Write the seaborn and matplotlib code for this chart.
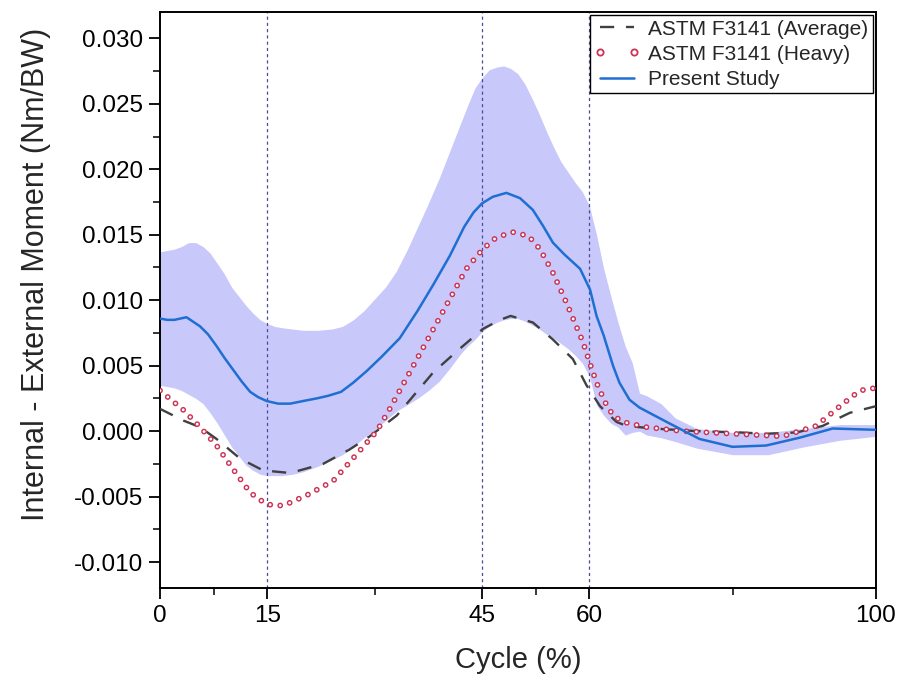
import matplotlib
matplotlib.use("Agg")
import matplotlib.pyplot as plt
from matplotlib.lines import Line2D
import numpy as np
import pandas as pd
import seaborn as sns

# ---------------------------------------------------------------------------
# Données
# ---------------------------------------------------------------------------
x_study = [0, 1, 2, 3.7, 5.6, 6.7, 7.9, 9, 10.2, 11.4, 12.6, 13.7, 14.9, 16.5,
           18.2, 20, 21.9, 23.5, 25.3, 27, 28.9, 31, 33.5, 36, 38.2, 40.5,
           42.5, 43.8, 45, 46.5, 48.4, 50.3, 52.1, 53.5, 54.9, 56.5, 58.7,
           60.1, 61, 62, 63.3, 64.2, 65.6, 67, 70.8, 75.4, 80, 84.7, 89.4, 94,
           100]
y_study = [0.0086, 0.0085, 0.0085, 0.0087, 0.0080, 0.0074, 0.0065, 0.0056,
           0.0047, 0.0038, 0.0030, 0.0026, 0.0023, 0.0021, 0.0021, 0.0023,
           0.0025, 0.0027, 0.0030, 0.0037, 0.0046, 0.0057, 0.0071, 0.0092,
           0.0112, 0.0134, 0.0156, 0.0167, 0.0174, 0.0179, 0.0182, 0.0178,
           0.0169, 0.0157, 0.0144, 0.0135, 0.0124, 0.0108, 0.0088, 0.0073,
           0.0050, 0.0037, 0.0024, 0.0018, 0.0007, -0.0006, -0.0012, -0.0011,
           -0.0005, 0.0002, 0.0001]

x_band = [0, 1, 2, 3, 4, 5, 6, 7, 8, 9, 10, 11, 12, 13, 14, 15, 16, 17, 18.5,
          20, 22, 24, 25.5, 27, 28.5, 30, 31.5, 33, 34.5, 36, 37.5, 39, 40.5,
          42, 43, 44, 45, 46, 47, 48, 49, 50, 51, 52, 53, 54, 55, 56, 57, 58,
          59, 60, 61, 62, 63, 64, 65, 66, 67, 68, 70, 72, 75, 80, 85, 90, 95,
          100]
band_upper = [0.0137, 0.0138, 0.0139, 0.0141, 0.0144, 0.0144, 0.0141, 0.0136,
              0.0128, 0.0120, 0.0110, 0.0103, 0.0096, 0.0090, 0.0085, 0.0082,
              0.0080, 0.0079, 0.0078, 0.0077, 0.0077, 0.0078, 0.0080, 0.0085,
              0.0092, 0.0101, 0.0110, 0.0122, 0.0138, 0.0156, 0.0174, 0.0193,
              0.0214, 0.0235, 0.0249, 0.0262, 0.0270, 0.0276, 0.0278, 0.0279,
              0.0277, 0.0273, 0.0265, 0.0254, 0.0242, 0.0229, 0.0217, 0.0206,
              0.0198, 0.0190, 0.0183, 0.0172, 0.0150, 0.0124, 0.0103, 0.0083,
              0.0065, 0.0052, 0.0029, 0.0027, 0.0021, 0.0010, 0.0002, -0.0001,
              -0.0001, 0.0002, 0.0005, 0.0005]
band_lower = [0.0035, 0.0034, 0.0033, 0.0031, 0.0028, 0.0025, 0.0021, 0.0014,
              0.0006, -0.0003, -0.0012, -0.0019, -0.0026, -0.0030, -0.0033,
              -0.0034, -0.0034, -0.0034, -0.0033, -0.0031, -0.0027, -0.0022,
              -0.0018, -0.0012, -0.0005, 0.0001, 0.0008, 0.0015, 0.0020,
              0.0025, 0.0031, 0.0038, 0.0048, 0.0059, 0.0065, 0.0070, 0.0076,
              0.0080, 0.0083, 0.0085, 0.0086, 0.0086, 0.0084, 0.0081, 0.0078,
              0.0074, 0.0071, 0.0067, 0.0063, 0.0058, 0.0052, 0.0042, 0.0020,
              0.0012, 0.0006, 0.0003, -0.0003, -0.0001, 0.0000, -0.0003,
              -0.0005, -0.0008, -0.0013, -0.0018, -0.0018, -0.0012, -0.0007,
              -0.0004]

x_avg = [0, 3.3, 5.6, 7.9, 11.2, 14.4, 18.2, 22.8, 26.5, 29.3, 33.1, 38.2, 41.9,
         45.1, 47.5, 49, 52.1, 54.9, 57.7, 59.6, 61.5, 63.8, 65.2, 68.9, 75, 81,
         84.7, 89, 92.6, 96.4, 100]
y_avg = [0.0017, 0.0008, 0.0003, -0.0006, -0.0021, -0.0030, -0.0032, -0.0025,
         -0.0014, -0.0004, 0.0012, 0.0045, 0.0063, 0.0078, 0.0085, 0.0088,
         0.0083, 0.0070, 0.0055, 0.0035, 0.0019, 0.0007, 0.0004, 0.0002, 0.0000,
         -0.0001, -0.0002, -0.0001, 0.0004, 0.0014, 0.0019]

x_heavy = [0, 3.3, 5.6, 7.9, 10.2, 12.6, 14.9, 17.2, 20.5, 24.2, 27.9, 30.3,
           32.1, 34.9, 38.2, 40, 42.8, 45.1, 47, 49.3, 51.5, 53.1, 54.9, 56.8,
           59.1, 60, 61, 62.2, 63.3, 64.7, 68, 73, 80, 87, 91.7, 95, 97.8, 100]
y_heavy = [0.0031, 0.0016, 0.0003, -0.0011, -0.0029, -0.0047, -0.0056, -0.0057,
           -0.0049, -0.0038, -0.0015, 0.0000, 0.0017, 0.0045, 0.0078, 0.0096,
           0.0124, 0.0139, 0.0148, 0.0152, 0.0149, 0.0139, 0.0121, 0.0098,
           0.0068, 0.0053, 0.0037, 0.0022, 0.0012, 0.0007, 0.0003, 0.0000,
           -0.0002, -0.0004, 0.0004, 0.0019, 0.0031, 0.0033]

phase_lines = [15, 45, 60]
x_major = [0, 15, 45, 60, 100]
x_minor = [7.5, 30, 52.5, 80]
y_major = [-0.010, -0.005, 0.000, 0.005, 0.010, 0.015, 0.020, 0.025, 0.030]

# ---------------------------------------------------------------------------
# Style
# ---------------------------------------------------------------------------
sns.set_theme(style="ticks")
plt.rcParams["font.family"] = ["Liberation Sans", "DejaVu Sans"]

C_BAND = "#c8c8fb"
C_STUDY = "#1f6fd2"
C_AVG = "#404040"
C_HEAVY = "#cc3355"

fig, ax = plt.subplots(figsize=(8.99, 6.8), dpi=100)
fig.subplots_adjust(left=0.178, right=0.974, bottom=0.135, top=0.982)

ax.fill_between(x_band, band_lower, band_upper, color=C_BAND, lw=0, zorder=1)

for xv in phase_lines:
    ax.axvline(xv, color="#4a4a9a", lw=0.9, ls=(0, (2.5, 2.5)), zorder=2)

df_avg = pd.DataFrame({"x": x_avg, "y": y_avg})
df_heavy = pd.DataFrame({"x": x_heavy, "y": y_heavy})
df_study = pd.DataFrame({"x": x_study, "y": y_study})

sns.lineplot(data=df_avg, x="x", y="y", ax=ax, color=C_AVG, lw=1.7,
             linestyle=(0, (6, 5)), sort=False, estimator=None, zorder=3)

# anneaux : gros points rouges puis petits points blancs sur le même motif
sns.lineplot(data=df_heavy, x="x", y="y", ax=ax, color=C_HEAVY, lw=4.2,
             linestyle=(0, (0.002, 1.72)), dash_capstyle="round",
             sort=False, estimator=None, zorder=4)
ax.plot(x_heavy, y_heavy, color="white", lw=2.1,
        linestyle=(0, (0.004, 3.44)), dash_capstyle="round", zorder=4)

sns.lineplot(data=df_study, x="x", y="y", ax=ax, color=C_STUDY, lw=1.8,
             sort=False, estimator=None, zorder=5)

ax.set_xlim(0, 100)
ax.set_ylim(-0.012, 0.032)
ax.set_xticks(x_major)
ax.set_xticks(x_minor, minor=True)
ax.set_yticks(y_major)
ax.set_yticklabels([f"{v:.3f}" for v in y_major])
ax.set_yticks(np.arange(-0.0075, 0.030, 0.005), minor=True)

ax.tick_params(axis="both", which="major", direction="out", length=8,
               width=1.3, labelsize=17.5, colors="black", pad=4)
ax.tick_params(axis="both", which="minor", direction="out", length=5,
               width=1.3)
for sp in ax.spines.values():
    sp.set_visible(True)
    sp.set_linewidth(1.4)
    sp.set_color("black")

ax.set_xlabel("Cycle (%)", fontsize=21, labelpad=14)
ax.set_ylabel("Internal - External Moment (Nm/BW)", fontsize=22)
ax.yaxis.set_label_coords(-0.152, 0.545)

handles = [
    Line2D([], [], color=C_AVG, lw=1.7, linestyle=(0, (6, 5))),
    Line2D([], [], color=C_HEAVY, marker="o", ms=4.5, mfc="none", mew=1.3,
           linestyle="none"),
    Line2D([], [], color=C_STUDY, lw=1.8),
]
labels = ["ASTM F3141 (Average)", "ASTM F3141 (Heavy)", "Present Study"]
leg = ax.legend(handles, labels, loc="upper right", fontsize=15, numpoints=2,
                frameon=True, fancybox=False, edgecolor="black",
                borderaxespad=0.15, handlelength=2.2, handletextpad=0.4,
                labelspacing=0.3, borderpad=0.2)
leg.get_frame().set_linewidth(1.0)
leg.get_frame().set_alpha(1)

fig.savefig("out.png", dpi=100)
plt.close(fig)
